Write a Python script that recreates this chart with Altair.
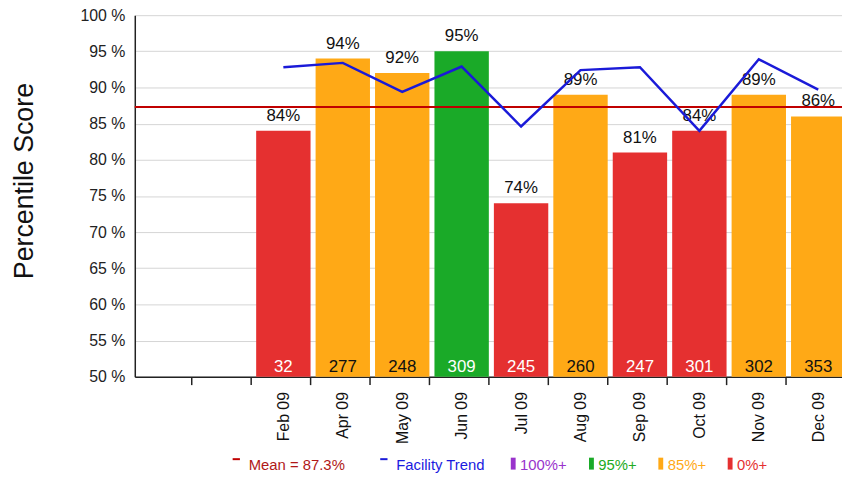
import altair as alt
import pandas as pd

# ---- data ----
blank_slots = [" ", "  "]
months = ["Feb 09", "Apr 09", "May 09", "Jun 09", "Jul 09",
          "Aug 09", "Sep 09", "Oct 09", "Nov 09", "Dec 09"]
scores = [84, 94, 92, 95, 74, 89, 81, 84, 89, 86]
counts = [32, 277, 248, 309, 245, 260, 247, 301, 302, 353]
trend = [92.8, 93.4, 89.4, 92.9, 84.6, 92.4, 92.8, 84.0, 93.9, 89.7]
mean_score = 87.3
y_ticks = [50, 55, 60, 65, 70, 75, 80, 85, 90, 95, 100]

line_labels = ["Mean = 87.3%", "Facility Trend"]
line_colors = ["#C00000", "#1A1AD8"]
line_label_colors = ["#B01818", "#1A1AE0"]
band_labels = ["100%+", "95%+", "85%+", "0%+"]
band_colors = ["#9933CC", "#1AAA28", "#FFA916", "#E53030"]
band_label_colors = ["#9933CC", "#22AA22", "#FFA916", "#E53030"]


def band_of(s):
    if s >= 100:
        return "100%+"
    if s >= 95:
        return "95%+"
    if s >= 85:
        return "85%+"
    return "0%+"


bands = [band_of(s) for s in scores]
df = pd.DataFrame({
    "month": months,
    "score": scores,
    "count": counts,
    "trend": trend,
    "band": bands,
    "series": [line_labels[1]] * len(months),
    "pct": [f"{s}%" for s in scores],
    "count_color": ["#111111" if b == "85%+" else "white" for b in bands],
})
mean_df = pd.DataFrame({"mean": [mean_score], "series": [line_labels[0]]})

x_domain = blank_slots + months
FONT = "Liberation Sans"


def color_expr(labels, colors):
    return " : ".join(
        f"datum.value == '{l}' ? '{c}'" for l, c in zip(labels[:-1], colors[:-1])
    ) + f" : '{colors[-1]}'"


x_axis = alt.Axis(
    title=None, labelAngle=-90, labelFontSize=16, labelColor="#111",
    tickBand="extent", tickSize=8, tickColor="#222", tickWidth=1.5,
    tickOpacity={"condition": {"test": "datum.extra", "value": 0}, "value": 1},
    labelPadding=7, domainColor="#222", domainWidth=1.5, grid=False,
)
x_enc = alt.X(
    "month:N",
    sort=x_domain,
    scale=alt.Scale(domain=x_domain, range=[0, 720], paddingInner=0.085, paddingOuter=0.0425),
    axis=x_axis,
)
x_plain = alt.X("month:N", sort=x_domain, axis=x_axis)
y_scale = alt.Scale(domain=[50, 100], nice=False, zero=False)
y_axis = alt.Axis(
    values=y_ticks, tickCount=20, labelExpr="datum.value + ' %'", title="Percentile Score",
    titleFontSize=27, titleFontWeight="normal", titleColor="#111",
    titlePadding=42, titleY=167,
    labelFontSize=16, labelColor="#222", labelPadding=10, labelOverlap=False,
    ticks=False, tickSize=0, domainColor="#222", domainWidth=1.5,
    grid=True, gridColor="#d4d4d4", gridWidth=1,
)

base = alt.Chart(df)

bars = base.mark_bar().encode(
    x=x_enc,
    y=alt.Y("score:Q", scale=y_scale, axis=y_axis),
    y2=alt.datum(50),
    color=alt.Color(
        "band:N",
        scale=alt.Scale(domain=band_labels, range=band_colors),
        legend=alt.Legend(
            title=None, orient="none", direction="horizontal",
            legendX=370, legendY=446, padding=0,
            labelFontSize=15, labelFont=FONT, labelOffset=4,
            labelColor=alt.ExprRef(expr=color_expr(band_labels, band_label_colors)),
            symbolType="M0.3,-1H1V0.72H0.3Z",
            symbolSize=196, symbolStrokeWidth=0, columnPadding=12,
        ),
    ),
)

pct_text = base.mark_text(fontSize=17, baseline="alphabetic", dy=-10, color="#111").encode(
    x=x_plain,
    y=alt.Y("score:Q", axis=y_axis),
    text="pct:N",
)

count_text = base.mark_text(fontSize=17, baseline="alphabetic", dy=-5).encode(
    x=x_plain,
    y=alt.datum(50),
    text="count:N",
    color=alt.Color("count_color:N", scale=None),
)

line_color_scale = alt.Scale(domain=line_labels, range=line_colors)
line_legend = alt.Legend(
    title=None, orient="none", direction="horizontal",
    legendX=95, legendY=446, padding=0,
    labelFontSize=15, labelFont=FONT, labelOffset=4,
    labelColor=alt.ExprRef(expr=color_expr(line_labels, line_label_colors)),
    symbolType="M-0.6,-0.82H0.45",
    symbolSize=196, symbolStrokeWidth=2, columnPadding=30,
)

mean_rule = alt.Chart(mean_df).mark_rule(strokeWidth=2).encode(
    y=alt.Y("mean:Q", axis=y_axis),
    color=alt.Color("series:N", scale=line_color_scale, legend=line_legend),
)

trend_line = base.mark_line(strokeWidth=2.5).encode(
    x=x_plain,
    y=alt.Y("trend:Q", axis=y_axis),
    color=alt.Color("series:N", scale=line_color_scale, legend=line_legend),
)

bar_layers = alt.layer(bars, count_text, pct_text)
line_layers = alt.layer(mean_rule, trend_line)

chart = alt.layer(bar_layers, line_layers).resolve_scale(color="independent").properties(
    width=714,
    height=365,
    autosize=alt.AutoSizeParams(type="none"),
    padding={"left": 128, "top": 5, "right": 0, "bottom": 96},
).configure(font=FONT).configure_view(stroke=None)

chart.save("out.html", embed_options={"renderer": "svg", "actions": False})
